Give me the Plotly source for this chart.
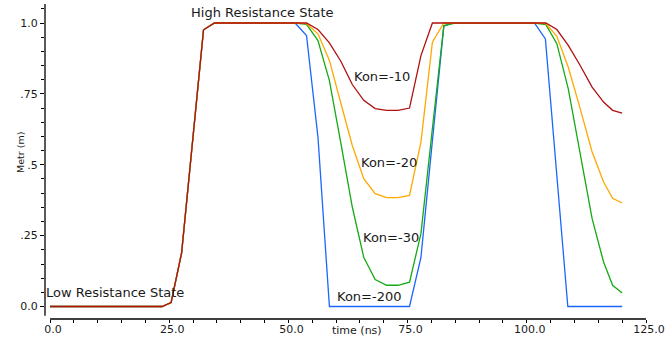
import plotly.graph_objects as go

# ---- data ----
t_blue = [0, 23.5, 25.4, 27.6, 32.2, 34.5, 51.4, 53.8, 56.2, 58.6, 75.4, 77.8, 80.2, 82.6, 84.5,
          101.6, 103.9, 108.6, 120.0]
v_blue = [0, 0, 0.014, 0.189, 0.976, 1.0, 1.0, 0.956, 0.597, 0.0, 0.0, 0.173, 0.585, 0.989, 1.0,
          1.0, 0.944, 0.0, 0.0]

t_green = [0, 23.5, 25.4, 27.6, 32.2, 34.5, 51.4, 53.8, 56.2, 58.6, 61.0, 63.4, 65.8, 68.2, 70.6, 73.0,
           75.4, 77.8, 80.2, 82.6, 85.0, 101.6, 104.0, 106.3, 108.7, 111.2, 113.7, 116.1, 118.0, 120.0]
v_green = [0, 0, 0.014, 0.189, 0.976, 1.0, 1.0, 0.995, 0.938, 0.797, 0.576, 0.351, 0.174, 0.095, 0.075, 0.075,
           0.086, 0.257, 0.628, 0.991, 1.0, 1.0, 0.994, 0.927, 0.768, 0.533, 0.310, 0.157, 0.075, 0.048]

t_orange = [0, 23.5, 25.4, 27.6, 32.2, 34.5, 51.4, 53.8, 56.2, 58.6, 61.0, 63.4, 65.8, 68.2, 70.6, 73.0,
            75.4, 77.8, 80.2, 82.6, 101.6, 104.0, 106.3, 108.7, 111.2, 113.7, 116.1, 118.0, 120.0]
v_orange = [0, 0, 0.014, 0.189, 0.976, 1.0, 1.0, 0.998, 0.962, 0.868, 0.717, 0.568, 0.451, 0.398, 0.384, 0.384,
            0.392, 0.580, 0.932, 1.0, 1.0, 0.998, 0.953, 0.844, 0.698, 0.545, 0.439, 0.382, 0.365]

t_red = [0, 23.5, 25.4, 27.6, 32.2, 34.5, 51.4, 53.8, 56.2, 58.6, 61.0, 63.4, 65.8, 68.2, 70.6, 73.0,
         75.4, 77.8, 80.2, 101.6, 104.0, 106.3, 108.7, 111.2, 113.7, 116.1, 118.0, 120.0]
v_red = [0, 0, 0.014, 0.189, 0.976, 1.0, 1.0, 1.0, 0.977, 0.930, 0.865, 0.783, 0.727, 0.698, 0.692, 0.692,
         0.700, 0.885, 1.0, 1.0, 1.0, 0.977, 0.921, 0.850, 0.774, 0.721, 0.692, 0.682]

series_names = ["Kon=-200", "Kon=-30", "Kon=-20", "Kon=-10"]
series_colors = ["#1a66ff", "#13aa13", "#ffa800", "#b01010"]

x_tickvals = [0, 25, 50, 75, 100, 125]
x_ticktext = ["0.0", "25.0", "50.0", "75.0", "100.0", "125.0"]
y_tickvals = [0, 0.25, 0.5, 0.75, 1.0]
y_ticktext = ["0.0", ".25", ".5", ".75", "1.0"]

label_text = ["High Resistance State", "Low Resistance State", "Kon=-10", "Kon=-20", "Kon=-30", "Kon=-200"]
label_x = [44.65, 13.6, 69.7, 71.2, 71.5, 66.9]
label_y = [1.038, 0.048, 0.812, 0.508, 0.242, 0.035]

x_title = "time (ns)"
y_title = "Metr (m)"

# ---- figure ----
FONT = "DejaVu Sans"
TXT = "#1a1a1a"
W, H = 672, 337
ML, MR, MT, MB = 45, 26, 4, 18
pw = W - ML - MR
ph = H - MT - MB

fig = go.Figure()
for tx, vy, nm, col in zip([t_blue, t_green, t_orange, t_red],
                           [v_blue, v_green, v_orange, v_red],
                           series_names, series_colors):
    fig.add_trace(go.Scatter(x=tx, y=vy, mode="lines", name=nm,
                             line=dict(color=col, width=1.3), showlegend=False))

for txt, ax, ay in zip(label_text, label_x, label_y):
    fig.add_annotation(x=ax, y=ay, xref="x", yref="y", text=txt, showarrow=False,
                       xanchor="center", yanchor="middle",
                       font=dict(family=FONT, size=13, color=TXT))

# axis titles (placed like the original, in line with tick labels)
fig.add_annotation(x=(357 - ML) / pw, y=(H - MB - 330.5) / ph, xref="paper", yref="paper",
                   text=x_title, showarrow=False, xanchor="center", yanchor="middle",
                   font=dict(family=FONT, size=11, color=TXT))
fig.add_annotation(x=(20 - ML) / pw, y=(H - MB - 153) / ph, xref="paper", yref="paper",
                   text=y_title, showarrow=False, textangle=-90, xanchor="center", yanchor="middle",
                   font=dict(family=FONT, size=9.5, color=TXT))

# axis lines drawn separately (they do not meet in the original)
fig.add_shape(type="line", xref="paper", yref="paper", x0=0, x1=0, y0=0.0105, y1=1,
              line=dict(color="black", width=1.3))
fig.add_shape(type="line", xref="x", yref="paper", x0=0, x1=125.2, y0=0, y1=0,
              line=dict(color="black", width=1.3))

fig.update_layout(
    width=W, height=H,
    margin=dict(l=ML, r=MR, t=MT, b=MB, autoexpand=False),
    paper_bgcolor="white", plot_bgcolor="white",
    font=dict(family=FONT, color=TXT),
    xaxis=dict(range=[-1.05, 125], showgrid=False, zeroline=False, showline=False, automargin=False,
               tickvals=x_tickvals, ticktext=x_ticktext, ticks="outside", ticklen=3,
               tickcolor="black", tickwidth=1, ticklabelshift=3, ticklabelstandoff=-3,
               tickfont=dict(family=FONT, size=11, color=TXT),
               minor=dict(dtick=5, tick0=0, ticks="outside", ticklen=3, tickcolor="black", showgrid=False)),
    yaxis=dict(range=[-0.044, 1.067], showgrid=False, zeroline=False, showline=False, automargin=False,
               tickvals=y_tickvals, ticktext=y_ticktext, ticks="outside", ticklen=4,
               tickcolor="black", tickwidth=1,
               tickfont=dict(family=FONT, size=11, color=TXT),
               minor=dict(dtick=0.05, tick0=0, ticks="outside", ticklen=3, tickcolor="black", showgrid=False)),
)

fig.write_html("out.html", config={"displayModeBar": False},
               post_script="document.body.style.margin='0px';document.body.style.padding='0px';")
